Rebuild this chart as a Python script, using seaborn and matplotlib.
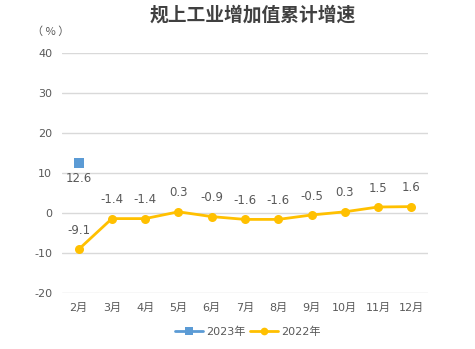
import matplotlib
matplotlib.use("Agg")
import matplotlib.pyplot as plt
import seaborn as sns
import numpy as np
import pandas as pd

months = ["2月", "3月", "4月", "5月", "6月", "7月", "8月", "9月", "10月", "11月", "12月"]
v2023 = [12.6] + [np.nan] * 10
v2022 = [-9.1, -1.4, -1.4, 0.3, -0.9, -1.6, -1.6, -0.5, 0.3, 1.5, 1.6]
yticks = [-20, -10, 0, 10, 20, 30, 40]

sns.set_theme(style="white")
plt.rcParams['font.family'] = ['DejaVu Sans', 'Noto Sans CJK SC']
plt.rcParams['axes.unicode_minus'] = False

fig = plt.figure(figsize=(4.75, 3.49), dpi=100)
ax = fig.add_axes([0.1305, 0.1605, 0.7705, 0.6875])

df = pd.DataFrame({"x": np.arange(len(months)), "2023年": v2023, "2022年": v2022})

sns.lineplot(data=df, x="x", y="2023年", ax=ax, color="#5B9BD5", marker="s",
             markersize=6.5, markeredgewidth=0, linewidth=2, label="2023年")
sns.lineplot(data=df, x="x", y="2022年", ax=ax, color="#FFC000", marker="o",
             markersize=6.5, markeredgewidth=0, linewidth=2, label="2022年")

tc = "#595959"
for i, v in enumerate(v2022):
    ax.annotate(f"{v:.1f}", (i, v), xytext=(0, 9), textcoords="offset points",
                ha="center", va="bottom", fontsize=8.5, color=tc)
for i, v in enumerate(v2023):
    if not np.isnan(v):
        ax.annotate(f"{v:.1f}", (i, v), xytext=(0, -7), textcoords="offset points",
                    ha="center", va="top", fontsize=8.5, color=tc)

ax.set_xlim(-0.5, len(months) - 0.5)
ax.set_ylim(-20, 40)
ax.set_yticks(yticks)
ax.set_xticks(np.arange(len(months)))
ax.set_xticklabels(months)
ax.grid(axis="y", color="#D9D9D9", linewidth=1)
ax.grid(axis="x", visible=False)
for s in ax.spines.values():
    s.set_visible(False)
ax.tick_params(axis="both", length=0, labelsize=8, colors=tc, pad=7)
ax.set_xlabel("")
ax.set_ylabel("")

fig.text(0.531, 0.957, "规上工业增加值累计增速", ha="center", va="center",
         fontsize=13.5, fontweight="bold", color="#404040",
         family=['Noto Sans CJK SC', 'DejaVu Sans'])
fig.text(0.106, 0.91, "（ % ）", ha="center", va="center", fontsize=8, color=tc,
         family=['Noto Sans CJK SC', 'DejaVu Sans'])

leg = ax.legend(loc="lower center", bbox_to_anchor=(0.522, 0.005), bbox_transform=fig.transFigure,
                ncol=2, frameon=False, fontsize=8, labelcolor=tc, handlelength=2.5,
                columnspacing=0.4, handletextpad=0.3, markerscale=0.85)

fig.savefig("out.png", dpi=100)
